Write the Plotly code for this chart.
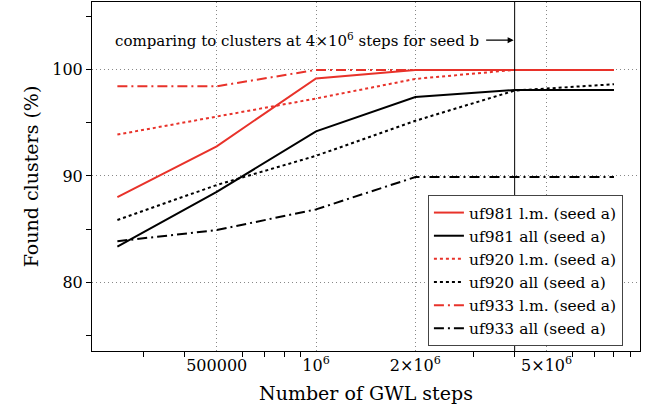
import math
import plotly.graph_objects as go

steps = [2.5e5, 5e5, 1e6, 2e6, 4e6, 8e6]
uf981_lm = [88.0, 92.8, 99.2, 100.0, 100.0, 100.0]
uf981_all = [83.35, 88.5, 94.2, 97.45, 98.1, 98.1]
uf920_lm = [93.9, 95.6, 97.3, 99.15, 100.0, 100.0]
uf920_all = [85.85, 89.15, 91.9, 95.2, 98.05, 98.65]
uf933_lm = [98.45, 98.45, 100.0, 100.0, 100.0, 100.0]
uf933_all = [83.85, 84.9, 86.85, 89.9, 89.9, 89.9]

series = [
    ("uf981 l.m. (seed a)", uf981_lm, "#e8322a", "solid"),
    ("uf981 all (seed a)", uf981_all, "black", "solid"),
    ("uf920 l.m. (seed a)", uf920_lm, "#e8322a", "dot"),
    ("uf920 all (seed a)", uf920_all, "black", "dot"),
    ("uf933 l.m. (seed a)", uf933_lm, "#e8322a", "10px,4px,2px,4px"),
    ("uf933 all (seed a)", uf933_all, "black", "10px,4px,2px,4px"),
]

xtick_vals = [5e5, 1e6, 2e6, 5e6]
xtick_text = ["500000", "10<sup>6</sup>", "2×10<sup>6</sup>", "5×10<sup>6</sup>"]
x_minor = [3e5, 4e5, 6e5, 7e5, 8e5, 9e5, 3e6, 4e6, 6e6, 7e6, 8e6, 9e6]
ytick_vals = [80, 90, 100]
y_minor = [75, 85, 95, 105]
ref_step = 4e6

FONT = "DejaVu Serif, Liberation Serif, serif"

fig = go.Figure()
for name, vals, col, dash in series:
    fig.add_trace(go.Scatter(x=steps, y=vals, mode="lines", name=name,
                             line=dict(color=col, width=2, dash=dash)))

fig.add_shape(type="line", x0=ref_step, x1=ref_step, xref="x", yref="paper",
              y0=0, y1=1, line=dict(color="black", width=1))

fig.add_annotation(x=math.log10(ref_step), y=102.8, xref="x", yref="y",
                   text="", showarrow=True, ax=-30, ay=0,
                   axref="pixel", ayref="pixel",
                   arrowhead=2, arrowsize=1, arrowwidth=1.2,
                   arrowcolor="black", standoff=1)
fig.add_annotation(x=math.log10(ref_step), y=102.8, xref="x", yref="y",
                   text="comparing to clusters at 4×10<sup>6</sup> steps for seed b",
                   showarrow=False, xanchor="right", xshift=-34,
                   font=dict(family=FONT, size=15, color="black"))

fig.update_layout(
    width=651, height=420,
    margin=dict(l=92, r=11, t=2, b=69),
    paper_bgcolor="white", plot_bgcolor="white",
    font=dict(family=FONT, size=16, color="black"),
    showlegend=True,
    legend=dict(x=0.613, y=0.447, xanchor="left", yanchor="top",
                bgcolor="white", bordercolor="#444", borderwidth=1,
                font=dict(family=FONT, size=15.5), tracegroupgap=0,
                itemwidth=30),
    xaxis=dict(type="log", range=[5.321, 6.982],
               tickvals=xtick_vals, ticktext=xtick_text,
               ticks="", showgrid=True, gridcolor="#888", griddash="1px,3px",
               gridwidth=1,
               showline=True, linecolor="black", linewidth=1, mirror=True,
               minor=dict(tickvals=x_minor, ticks="outside", ticklen=5,
                          tickcolor="black", showgrid=False),
               title=dict(text="Number of GWL steps", font=dict(size=19), standoff=12),
               zeroline=False),
    yaxis=dict(range=[73.5, 106.4], tickvals=ytick_vals,
               ticks="outside", ticklen=5, tickcolor="black",
               showgrid=True, gridcolor="#888", griddash="1px,3px", gridwidth=1,
               showline=True, linecolor="black", linewidth=1, mirror=True,
               minor=dict(tickvals=y_minor, ticks="outside", ticklen=5,
                          tickcolor="black", showgrid=False),
               title=dict(text="Found clusters (%)", font=dict(size=19), standoff=8),
               zeroline=False),
)

fig.write_html("out.html")
